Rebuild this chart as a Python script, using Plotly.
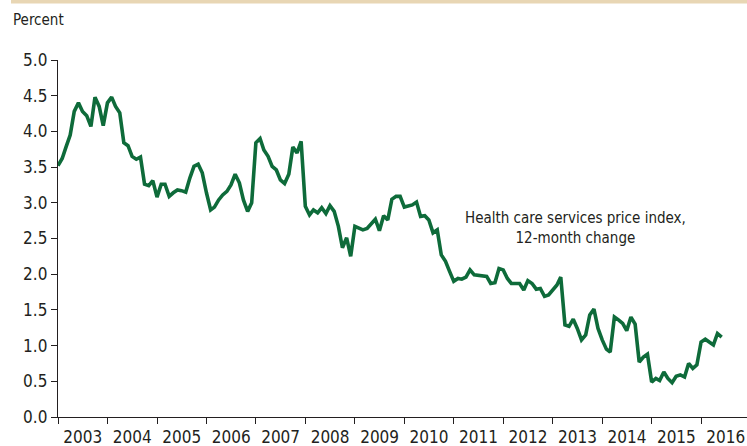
import pandas as pd
import plotly.graph_objects as go

# Monthly 12-month change (%) of the health care services price index, Jan 2003 - Jun 2016
start_month = "2003-01-01"
values = [
    3.52, 3.62, 3.78, 3.95, 4.28, 4.40, 4.28, 4.22, 4.07, 4.48, 4.35, 4.08,  # 2003
    4.40, 4.48, 4.35, 4.26, 3.84, 3.80, 3.65, 3.61, 3.64, 3.26, 3.24, 3.31,  # 2004
    3.08, 3.26, 3.26, 3.09, 3.14, 3.18, 3.17, 3.15, 3.35, 3.51, 3.54, 3.42,  # 2005
    3.14, 2.90, 2.94, 3.04, 3.11, 3.16, 3.25, 3.40, 3.28, 3.04, 2.88, 3.00,  # 2006
    3.84, 3.90, 3.74, 3.65, 3.51, 3.46, 3.32, 3.27, 3.40, 3.78, 3.70, 3.86,  # 2007
    2.95, 2.83, 2.90, 2.86, 2.93, 2.85, 2.96, 2.88, 2.67, 2.37, 2.51, 2.25,  # 2008
    2.67, 2.65, 2.62, 2.64, 2.71, 2.77, 2.61, 2.82, 2.76, 3.05, 3.09, 3.09,  # 2009
    2.94, 2.95, 2.97, 3.01, 2.81, 2.82, 2.76, 2.58, 2.62, 2.27, 2.18, 2.04,  # 2010
    1.90, 1.94, 1.93, 1.96, 2.06, 1.99, 1.98, 1.98, 1.97, 1.87, 1.88, 2.08,  # 2011
    2.06, 1.94, 1.87, 1.87, 1.87, 1.78, 1.91, 1.87, 1.79, 1.80, 1.69, 1.71,  # 2012
    1.79, 1.85, 1.96, 1.29, 1.27, 1.37, 1.24, 1.08, 1.15, 1.43, 1.51, 1.24,  # 2013
    1.08, 0.95, 0.91, 1.40, 1.36, 1.31, 1.21, 1.40, 1.30, 0.77, 0.84, 0.88,  # 2014
    0.49, 0.54, 0.51, 0.63, 0.54, 0.48, 0.57, 0.59, 0.56, 0.75, 0.68, 0.73,  # 2015
    1.05, 1.09, 1.05, 1.01, 1.17, 1.12,                                      # 2016
]
dates = pd.date_range(start_month, periods=len(values), freq="MS")

y_ticks = [0.0, 0.5, 1.0, 1.5, 2.0, 2.5, 3.0, 3.5, 4.0, 4.5, 5.0]
y_tick_labels = [f"{v:.1f}" for v in y_ticks]
y_label = "Percent"
series_label = "Health care services price index,<br>12-month change"

FONT = "Liberation Sans Narrow, DejaVu Sans Condensed, Roboto, sans-serif"
TXT = "#231f20"

fig = go.Figure()
fig.add_trace(go.Scatter(
    x=dates, y=values, mode="lines",
    line=dict(color="#0e6b3a", width=3.6),
    hoverinfo="skip", showlegend=False,
))

W, H = 747, 446
L, R, T, B = 58, 0, 60, 29
pw = W - L - R
ph = H - T - B

fig.update_layout(
    width=W, height=H,
    margin=dict(l=L, r=R, t=T, b=B, autoexpand=False),
    paper_bgcolor="white", plot_bgcolor="white",
    font=dict(family=FONT, size=17, color=TXT),
    xaxis=dict(
        type="date", automargin=False,
        range=["2003-01-01", "2016-12-05"],
        tick0="2003-01-01", dtick="M12",
        ticklabelmode="period", tickformat="%Y",
        ticks="outside", ticklen=6, tickwidth=1.3, tickcolor="#231f20",
        ticklabelstandoff=-2,
        showline=True, linecolor="#231f20", linewidth=1.3,
        showgrid=False, zeroline=False,
        tickfont=dict(family=FONT, size=17, color=TXT),
    ),
    yaxis=dict(
        range=[0, 5], automargin=False,
        tickvals=y_ticks, ticktext=y_tick_labels,
        ticks="outside", ticklen=6, tickwidth=1.3, tickcolor="#231f20",
        showline=True, linecolor="#231f20", linewidth=1.3,
        showgrid=False, zeroline=False,
        tickfont=dict(family=FONT, size=17, color=TXT),
    ),
    shapes=[dict(
        type="rect", xref="paper", yref="paper",
        x0=(11 - L) / pw, x1=1.0,
        y0=1 + (T - 3.5) / ph, y1=1 + T / ph,
        line=dict(width=0), fillcolor="rgb(232,214,180)", layer="above",
    )],
    annotations=[
        dict(text=y_label, xref="paper", yref="paper",
             x=(11 - L) / pw, y=1 + (T - 20) / ph,
             xanchor="left", yanchor="middle", showarrow=False,
             font=dict(family=FONT, size=15, color=TXT)),
        dict(text=series_label, xref="x", yref="y",
             x="2013-06-15", y=2.65,
             xanchor="center", yanchor="middle", showarrow=False, align="center",
             font=dict(family=FONT, size=15, color=TXT)),
    ],
)

fig.write_html("out.html", config={"displayModeBar": False},
               post_script="document.body.style.margin='0';")
